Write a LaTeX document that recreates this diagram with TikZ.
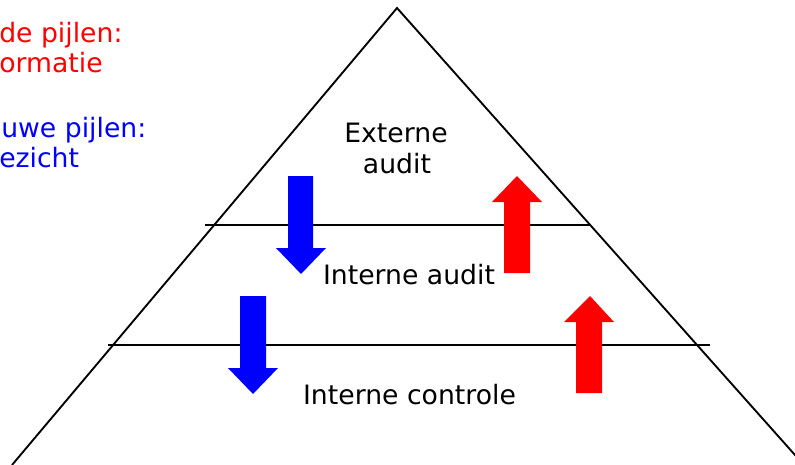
\documentclass[tikz,border=0pt]{standalone}
\usepackage{fontspec}
\setmainfont{DejaVu Sans}
\definecolor{infored}{RGB}{255,0,0}
\definecolor{toezichtblue}{RGB}{0,0,255}
\begin{document}
\begin{tikzpicture}[x=0.75pt,y=-0.75pt,
  lbl/.style={inner sep=0pt,font=\fontsize{20}{24}\selectfont,text=black},
  legend/.style={inner sep=0pt,anchor=base west,font=\fontsize{20}{24}\selectfont},
  edge/.style={line width=1.4pt,black},
  upbar/.style={fill=infored,draw=none},
  downbar/.style={fill=toezichtblue,draw=none}]
\useasboundingbox (0,0) rectangle (795,464);
\begin{scope}
\clip (0,0) rectangle (795,464);
% pyramid outline
\coordinate (apex) at (397,8);
\coordinate (baseL) at (12,465);
\coordinate (baseR) at (803,464);
\draw[edge,line join=miter] (baseL) -- (apex) -- (baseR);
% layer dividers
\coordinate (d1L) at (205,225);
\coordinate (d1R) at (590,225);
\coordinate (d2L) at (108,345);
\coordinate (d2R) at (710,345);
\draw[edge] (d1L) -- (d1R);
\draw[edge] (d2L) -- (d2R);
% supervision arrows (downward)
\fill[downbar] (288,176) -- (313,176) -- (313,248) -- (326,248) -- (301,274)
  -- (276,248) -- (288,248) -- cycle;
\fill[downbar] (240,296) -- (266,296) -- (266,368) -- (278,368) -- (253,394)
  -- (228,368) -- (240,368) -- cycle;
% information arrows (upward)
\fill[upbar] (504,273) -- (530,273) -- (530,202) -- (542,202) -- (517,176)
  -- (492,202) -- (504,202) -- cycle;
\fill[upbar] (576,393) -- (602,393) -- (602,322) -- (614,322) -- (590,296)
  -- (564,322) -- (576,322) -- cycle;
% layer labels
\node[lbl,anchor=base] (ext1) at (396,142) {Externe};
\node[lbl,anchor=base] (ext2) at (397,173) {audit};
\node[lbl,anchor=base] (ia) at (409,284) {Interne audit};
\node[lbl,anchor=base] (ic) at (409.5,404) {Interne controle};
% legend
\node[legend,text=infored] (r1) at (-1,42) {de pijlen:};
\node[legend,text=infored] (r2) at (-1,72) {ormatie};
\node[legend,text=toezichtblue] (b1) at (1,137) {uwe pijlen:};
\node[legend,text=toezichtblue] (b2) at (-1,167) {ezicht};
\end{scope}
\end{tikzpicture}
\end{document}
